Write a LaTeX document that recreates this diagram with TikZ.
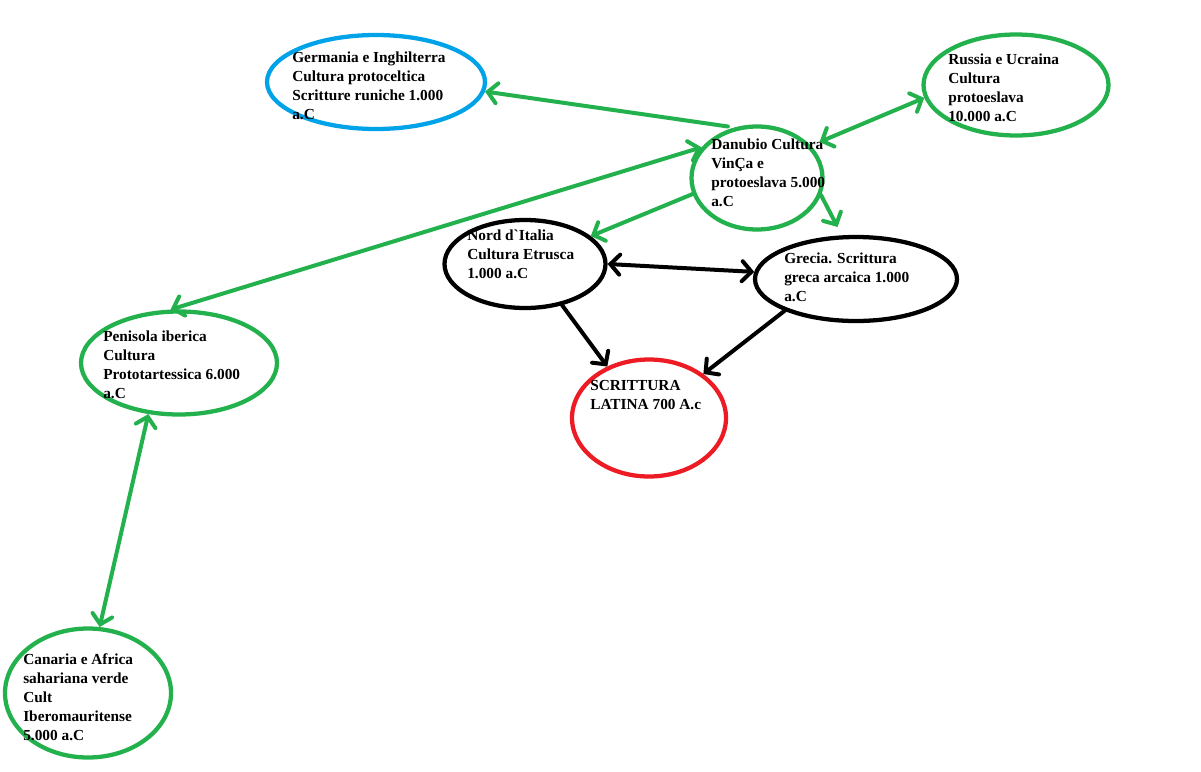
\documentclass[tikz,border=0pt]{standalone}
\usepackage{fontspec}
\setmainfont{Liberation Serif}[Ligatures=TeXOff]
\usetikzlibrary{shapes.geometric,arrows.meta}
\definecolor{pgreen}{RGB}{34,177,76}
\definecolor{pblue}{RGB}{0,162,232}
\definecolor{pred}{RGB}{237,28,36}
\begin{document}
\begin{tikzpicture}[x=0.75pt,y=-0.75pt,
  oval/.style={ellipse, draw, line width=3.2pt, inner sep=0pt},
  txt/.style={anchor=north west, inner sep=0pt, align=left,
    font=\bfseries\fontsize{11.5pt}{14.25pt}\selectfont},
  link/.style={line width=3pt, line cap=round,
    >={Straight Barb[length=7pt,width=15pt,line cap=round]}},
  one/.style={link,->},
  two/.style={link,<->}
]
\useasboundingbox (0,0) rectangle (1201,771);
\fill[white] (0,0) rectangle (1201,771);

% ellipses
\node[oval, pblue,  minimum width=163.5pt, minimum height=70.5pt]  (ger) at (376,82)  {};
\node[oval, pgreen, minimum width=138.75pt, minimum height=75.75pt] (rus) at (1016,85) {};
\node[oval, pgreen, minimum width=98.25pt, minimum height=77.25pt] (dan) at (757,178) {};
\node[oval, black,  minimum width=120.75pt, minimum height=66pt]   (nor) at (525,264) {};
\node[oval, black,  minimum width=151.5pt, minimum height=63pt]    (gre) at (856,279) {};
\node[oval, pred,   minimum width=115.5pt, minimum height=87.75pt] (lat) at (649,418) {};
\node[oval, pgreen, minimum width=147pt, minimum height=77.25pt]   (pen) at (179,363) {};
\node[oval, pgreen, minimum width=124.5pt, minimum height=96.75pt] (can) at (88,693)  {};

% texts
\node[txt] (gerT) at (292,52)  {Germania e Inghilterra\\Cultura protoceltica\\Scritture runiche 1.000\\a.C};
\node[txt] (rusT) at (948,54)  {Russia e Ucraina\\Cultura\\protoeslava\\10.000 a.C};
\node[txt] (danT) at (711,139) {Danubio Cultura\\VinÇa e\\protoeslava 5.000\\a.C};
\node[txt] (norT) at (467,230) {Nord d`Italia\\Cultura Etrusca\\1.000 a.C};
\node[txt] (greT) at (784,253) {Grecia. Scrittura\\greca arcaica 1.000\\a.C};
\node[txt] (latT) at (590,380) {SCRITTURA\\LATINA 700 A.c};
\node[txt] (penT) at (103,331) {Penisola iberica\\Cultura\\Prototartessica 6.000\\a.C};
\node[txt] (canT) at (23,653)  {Canaria e Africa\\sahariana verde\\Cult\\Iberomauritense\\5.000 a.C};

% connectors
\draw[one, pgreen, shorten <=5pt] (dan.114) -- (ger.-5.5);
\draw[two, pgreen, shorten <=7pt] (dan.31) -- (rus.188);
\draw[two, pgreen] (dan.151) -- (pen.99);
\draw[one, pgreen] (dan.194.7) -- (nor.23);
\draw[one, pgreen, shorten >=7pt] (dan.-15) -- (gre.108);
\draw[two, black] (nor.0) -- (gre.176);
\draw[one, black] (nor.-48.5) -- (lat.129);
\draw[one, black] (gre.204) -- (lat.39.6);
\draw[two, pgreen] (pen.239) -- (can.80);
\end{tikzpicture}
\end{document}
